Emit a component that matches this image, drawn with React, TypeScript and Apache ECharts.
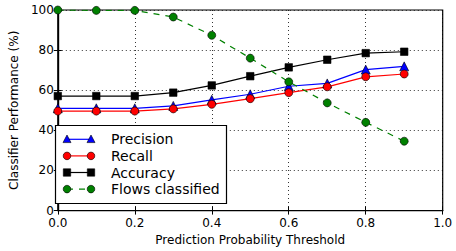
import React, { useEffect, useRef } from "react";
import * as echarts from "echarts";

const thresholds = [0.0, 0.1, 0.2, 0.3, 0.4, 0.5, 0.6, 0.7, 0.8, 0.9];
const precision = [51.0, 51.0, 51.0, 52.2, 55.2, 58.0, 62.0, 63.4, 70.3, 71.9];
const recall = [49.6, 49.6, 49.6, 50.7, 53.0, 55.8, 58.8, 61.7, 66.7, 68.1];
const accuracy = [57.1, 57.1, 57.1, 58.8, 62.4, 67.0, 71.4, 75.2, 78.5, 79.2];
const flows = [100.0, 99.8, 99.8, 96.5, 87.4, 76.0, 64.2, 53.7, 44.0, 34.6];
const legendNames = ["Precision", "Recall", "Accuracy", "Flows classified"];

const FONT = "DejaVu Sans";

export default function App() {
  const ref = useRef<HTMLDivElement>(null);
  useEffect(() => {
    document.body.style.margin = "0";
    if (!ref.current) return;
    const chart = echarts.init(ref.current, null, { renderer: "svg" });
    const pair = (arr: number[]) => thresholds.map((t, i) => [t, arr[i]]);
    const mk = (name: string, data: number[], color: string, symbol: string, dashed: boolean, size: number) => ({
      name,
      type: "line",
      data: pair(data),
      symbol,
      symbolSize: size,
      showSymbol: true,
      lineStyle: { color, width: 1.2, type: dashed ? [6, 6] : "solid" },
      itemStyle: { color, borderColor: "#000", borderWidth: 0.6 },
      z: 3,
    });
    const gridLine = { show: true, lineStyle: { color: "#000", type: [1, 3], width: 0.8 } };
    const legendX = 55.5;
    const legendY = 125.5;
    const rowH = 16.6;
    const colors = ["#0000ff", "#ff0000", "#000000", "#008000"];
    const symbols = ["triangle", "circle", "rect", "circle"];
    const legendEls: any[] = [
      {
        type: "rect",
        shape: { x: legendX, y: legendY, width: 171, height: 78 },
        style: { fill: "#fff", stroke: "#000", lineWidth: 1.2 },
        z: 10,
      },
    ];
    legendNames.forEach((n, i) => {
      const cy = legendY + 13.8 + i * rowH;
      const x1 = legendX + 11.5;
      const x2 = legendX + 35.5;
      const c = colors[i];
      legendEls.push({
        type: "line",
        shape: { x1, y1: cy, x2, y2: cy },
        style: { stroke: c, lineWidth: 1.2, lineDash: i === 3 ? [6, 6] : null },
        z: 11,
      });
      [x1, x2].forEach((x) => {
        const st = { fill: c, stroke: "#000", lineWidth: 0.6 };
        if (symbols[i] === "circle") legendEls.push({ type: "circle", shape: { cx: x, cy, r: 3.8 }, style: st, z: 12 });
        else if (symbols[i] === "rect") legendEls.push({ type: "rect", shape: { x: x - 3.7, y: cy - 3.7, width: 7.4, height: 7.4 }, style: st, z: 12 });
        else legendEls.push({ type: "polygon", shape: { points: [[x, cy - 4.3], [x + 4, cy + 3.3], [x - 4, cy + 3.3]] }, style: st, z: 12 });
      });
      legendEls.push({
        type: "text",
        style: { text: n, x: legendX + 55.5, y: cy, fill: "#000", font: `14px "${FONT}"`, textVerticalAlign: "middle" },
        z: 12,
      });
    });
    chart.setOption({
      animation: false,
      backgroundColor: "#fff",
      textStyle: { fontFamily: FONT },
      grid: { left: 47.7, right: 13.3, top: 10, bottom: 38.5, show: true, borderColor: "#000", borderWidth: 1.2, backgroundColor: "#fff" },
      xAxis: [
        {
          type: "value",
          min: 0,
          max: 1,
          interval: 0.2,
          name: "Prediction Probability Threshold",
          nameLocation: "middle",
          nameGap: 21,
          nameTextStyle: { fontSize: 12, color: "#000", fontFamily: FONT },
          axisLine: { show: true, lineStyle: { color: "#000", width: 1.2 } },
          axisTick: { show: true, inside: true, length: 4, lineStyle: { color: "#000" } },
          axisLabel: { fontSize: 12, lineHeight: 12, color: "#000", margin: 6.5, formatter: (v: number) => v.toFixed(1) },
          splitLine: gridLine,
        },
        {
          type: "value",
          position: "top",
          min: 0,
          max: 1,
          interval: 0.2,
          axisLine: { show: true, lineStyle: { color: "#000", width: 1.2 } },
          axisTick: { show: true, inside: true, length: 4, lineStyle: { color: "#000" } },
          axisLabel: { show: false },
          splitLine: { show: false },
        },
      ],
      yAxis: [
        {
          type: "value",
          min: 0,
          max: 100,
          interval: 20,
          name: "Classifier Performance (%)",
          nameLocation: "middle",
          nameGap: 31,
          nameTextStyle: { fontSize: 12, color: "#000", fontFamily: FONT },
          axisLine: { show: true, lineStyle: { color: "#000", width: 1.2 } },
          axisTick: { show: true, inside: true, length: 4, lineStyle: { color: "#000" } },
          axisLabel: { fontSize: 12, lineHeight: 11, color: "#000", margin: 4 },
          splitLine: gridLine,
        },
        {
          type: "value",
          position: "right",
          min: 0,
          max: 100,
          interval: 20,
          axisLine: { show: true, lineStyle: { color: "#000", width: 1.2 } },
          axisTick: { show: true, inside: true, length: 4, lineStyle: { color: "#000" } },
          axisLabel: { show: false },
          splitLine: { show: false },
        },
      ],
      series: [
        mk(legendNames[0], precision, "#0000ff", "triangle", false, 9),
        mk(legendNames[1], recall, "#ff0000", "circle", false, 8),
        mk(legendNames[2], accuracy, "#000000", "rect", false, 7.5),
        mk(legendNames[3], flows, "#008000", "circle", true, 8),
      ],
      graphic: legendEls,
    });
    return () => chart.dispose();
  }, []);
  return <div ref={ref} style={{ width: 456, height: 251 }} />;
}
